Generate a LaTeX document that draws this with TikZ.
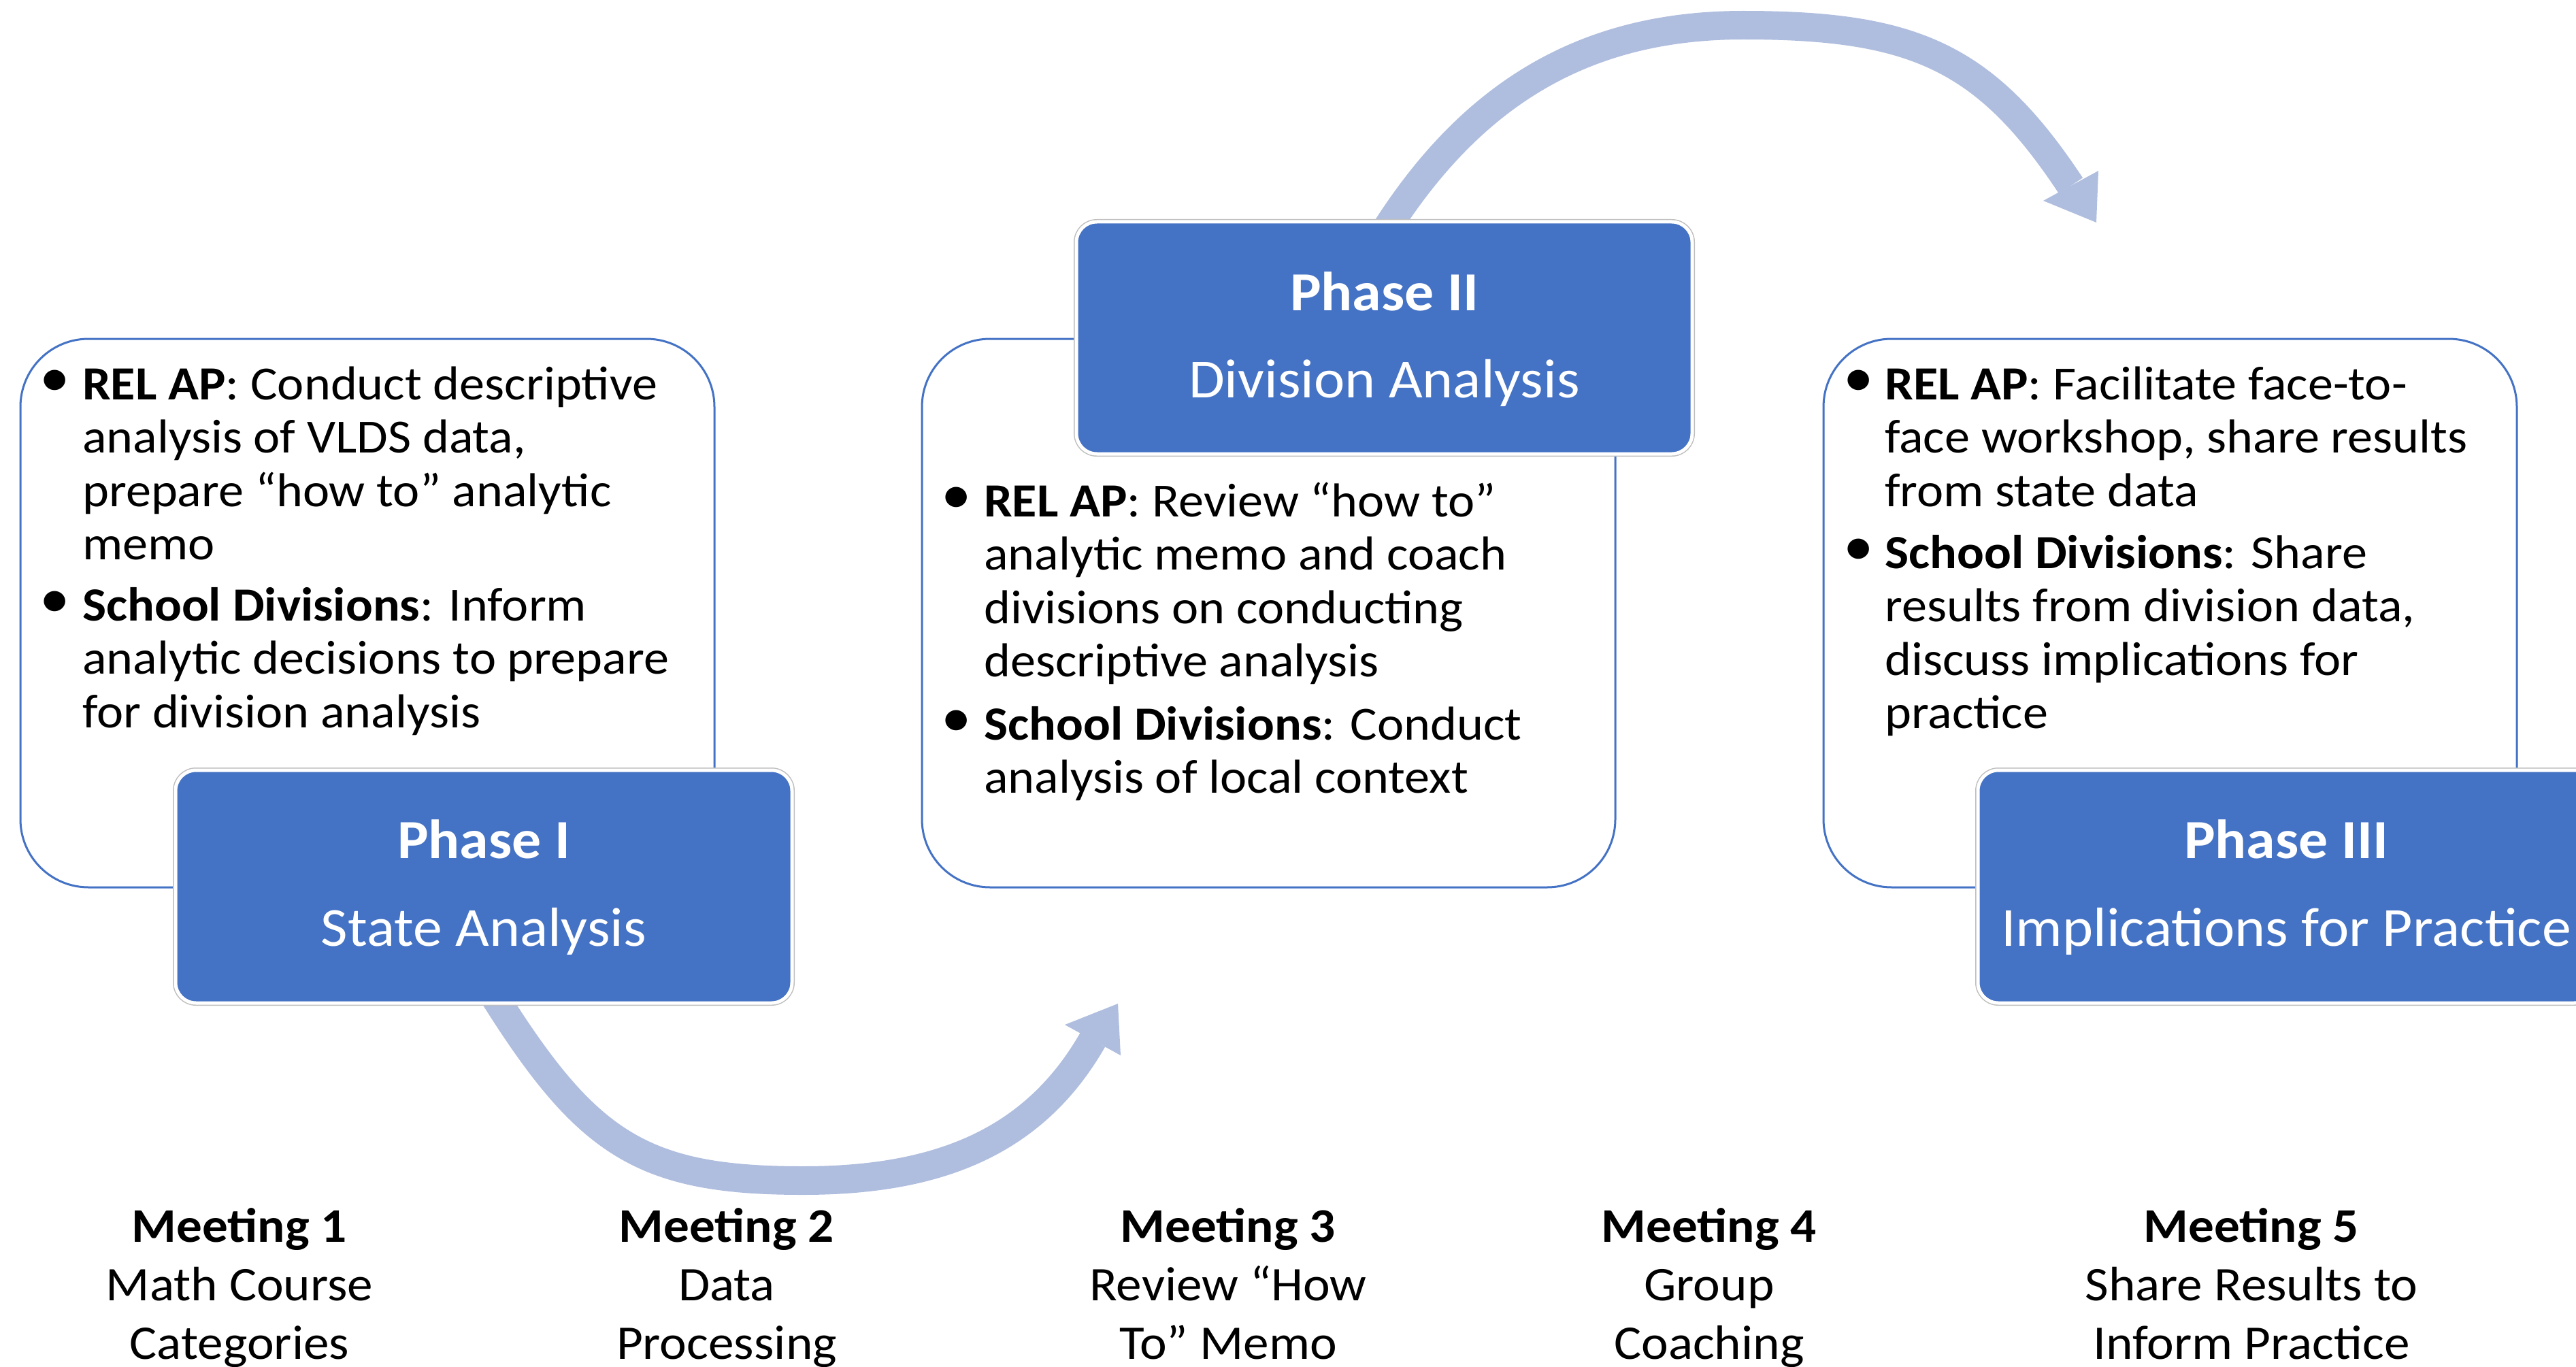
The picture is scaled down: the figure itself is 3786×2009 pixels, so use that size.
\documentclass[tikz,border=0pt]{standalone}
\usepackage{fontspec}
\setmainfont{Carlito}[FakeStretch=1.06]
\usetikzlibrary{backgrounds}
\definecolor{phaseblue}{RGB}{68,114,196}
\definecolor{arrowblue}{RGB}{175,189,222}
\definecolor{rimgray}{RGB}{190,190,190}
\begin{document}
\begin{tikzpicture}[x=1pt,y=-1pt,
  panel/.style={draw=phaseblue, line width=3pt, rounded corners=100pt,
    inner sep=0pt, outer sep=0pt, anchor=north west},
  phasebox/.style={fill=phaseblue, draw=white, line width=5pt, rounded corners=30pt,
    inner sep=0pt, outer sep=0pt, anchor=north west,
    preaction={draw=rimgray, line width=8pt}},
  phasetitle/.style={text=white, font=\fontsize{81}{90}\selectfont\bfseries,
    anchor=base, inner sep=0pt},
  phasesub/.style={text=white, font=\fontsize{81}{90}\selectfont,
    anchor=base, inner sep=0pt},
  % multi-line text nodes are placed by the baseline of their last line
  bullettext/.style={font=\fontsize{70}{78.5}\selectfont, align=left,
    anchor=base west, inner sep=0pt},
  bulletdot/.style={font=\fontsize{84}{84}\selectfont, inner sep=0pt, anchor=center},
  meeting/.style={font=\fontsize{71}{86}\selectfont, align=center,
    anchor=base, inner sep=0pt},
  band/.style={draw=arrowblue, line width=42pt},
  head/.style={fill=arrowblue, draw=none}]

\useasboundingbox (0,0) rectangle (3786,2009);
\clip (0,0) rectangle (3786,2009);

% outlined activity panels
\node[panel, minimum width=1020pt, minimum height=806pt] (b1) at (30,498) {};
\node[panel, minimum width=1019pt, minimum height=806pt] (b2) at (1355,498) {};
\node[panel, minimum width=1019pt, minimum height=806pt] (b3) at (2680,498) {};

% panel 1 text
\node[bulletdot] (d11) at (80.5,563) {•};
\node[bullettext] (t11) at (121,822.5) {\textbf{REL AP}: Conduct descriptive\\analysis of VLDS data,\\prepare “how to” analytic\\memo};
\node[bulletdot] (d12) at (80.5,888) {•};
\node[bullettext] (t12) at (121,1069) {\textbf{School Divisions}: Inform\\analytic decisions to prepare\\for division analysis};

% panel 2 text
\node[bulletdot] (d21) at (1405.5,735) {•};
\node[bullettext] (t21) at (1446,994.5) {\textbf{REL AP}: Review “how to”\\analytic memo and coach\\divisions on conducting\\descriptive analysis};
\node[bulletdot] (d22) at (1405.5,1063) {•};
\node[bullettext] (t22) at (1446,1165.5) {\textbf{School Divisions}: Conduct\\analysis of local context};

% panel 3 text
\node[bulletdot] (d31) at (2731.5,563) {•};
\node[bullettext] (t31) at (2770,744) {\textbf{REL AP}: Facilitate face-to-\\face workshop, share results\\from state data};
\node[bulletdot] (d32) at (2731.5,811) {•};
\node[bullettext] (t32) at (2770,1070.5) {\textbf{School Divisions}: Share\\results from division data,\\discuss implications for\\practice};

% phase headers
\node[phasebox, minimum width=906pt, minimum height=342pt] (p1) at (258,1132) {};
\node[phasebox, minimum width=905pt, minimum height=341pt] (p2) at (1582,326) {};
\node[phasebox, minimum width=906pt, minimum height=342pt] (p3) at (2907,1132) {};

\node[phasetitle] (p1t) at ([yshift=42pt]p1.center) {Phase I};
\node[phasesub]   (p1s) at ([yshift=-87pt]p1.center) {State Analysis};
\node[phasetitle] (p2t) at ([yshift=40pt]p2.center) {Phase II};
\node[phasesub]   (p2s) at ([yshift=-88pt]p2.center) {Division Analysis};
\node[phasetitle] (p3t) at ([yshift=42pt]p3.center) {Phase III};
\node[phasesub]   (p3s) at ([yshift=-87pt]p3.center) {Implications for Practice};

% meetings timeline
\node[meeting] (m1) at (352,1997) {\textbf{Meeting 1}\\Math Course\\Categories};
\node[meeting] (m2) at (1068,1997) {\textbf{Meeting 2}\\Data\\Processing};
\node[meeting] (m3) at (1805,1997) {\textbf{Meeting 3}\\Review “How\\To” Memo};
\node[meeting] (m4) at (2512,1997) {\textbf{Meeting 4}\\Group\\Coaching};
\node[meeting] (m5) at (3309,1997) {\textbf{Meeting 5}\\Share Results to\\Inform Practice};

% curved transition arrows, behind the phase headers
\coordinate (h1) at (1606,1528);
\coordinate (h2) at (3043.5,273);
\begin{scope}[on background layer]
  \draw[band] ([xshift=6pt,yshift=25pt]p1.south)
    .. controls (860,1680) and (940,1735) .. (1180,1735)
    .. controls (1380,1735) and (1520,1678) .. (h1);
  \fill[head] (1643,1475) -- (1565,1506) -- (1647,1551) -- cycle;
  \draw[band] ([xshift=2pt,yshift=-12pt]p2.north)
    .. controls (2166,135) and (2332,37) .. (2562,37)
    .. controls (2812,37) and (2918,83) .. (h2);
  \fill[head] (3003,295) -- (3084,251) -- (3081,327) -- cycle;
\end{scope}
\end{tikzpicture}
\end{document}
